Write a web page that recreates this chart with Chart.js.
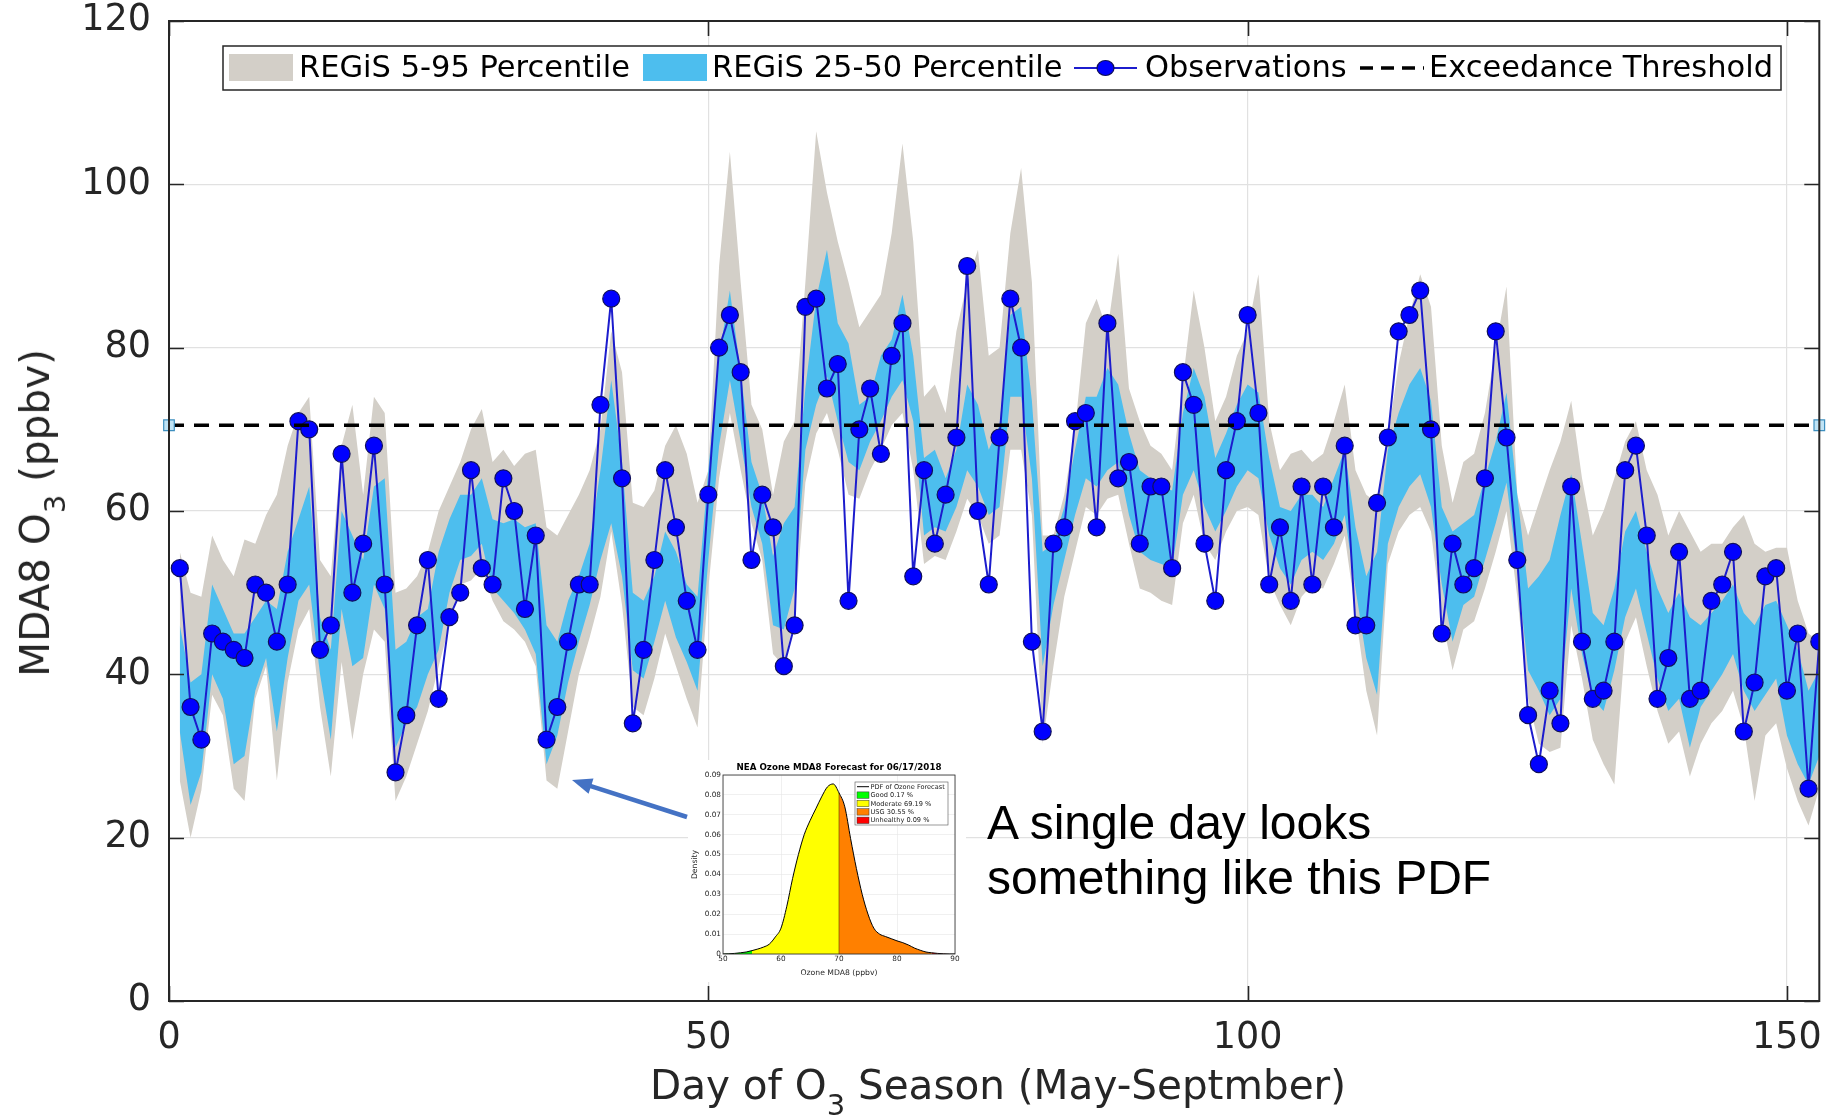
<!DOCTYPE html>
<html>
<head>
<meta charset="utf-8">
<script src="https://cdn.jsdelivr.net/npm/chart.js@4.4.1/dist/chart.umd.min.js"></script>
<style>
html,body{margin:0;padding:0;background:#fff;}
#wrap{position:relative;width:1829px;height:1116px;overflow:hidden;background:#fff;}
#main{position:absolute;left:0;top:0;}
#insetBox{position:absolute;left:688px;top:760px;width:278px;height:222px;background:#fff;}
.ttl{position:absolute;font-family:"DejaVu Sans";font-size:40.5px;line-height:40px;color:#262626;white-space:nowrap;}
.ttl sub{font-size:29px;line-height:0;vertical-align:baseline;position:relative;top:16px;}
#xt{left:998px;top:1065px;transform:translateX(-50%);}
#yt{left:35px;top:513px;transform:translate(-50%,-50%) rotate(-90deg);}
#note{position:absolute;left:987px;top:795px;font-family:"Liberation Sans",Arial,sans-serif;font-size:48px;line-height:55px;color:#000;white-space:nowrap;}
</style>
</head>
<body>
<div id="wrap">
  <canvas id="main" width="1829" height="1116"></canvas>
  <div class="ttl" id="xt">Day of O<sub>3</sub> Season (May-Septmber)</div>
  <div class="ttl" id="yt">MDA8 O<sub>3</sub> (ppbv)</div>
  <div id="insetBox"><canvas id="inset" width="278" height="222"></canvas></div>
  <div id="note">A single day looks<br>something like this PDF</div>
</div>
<script>
// ---------------- main chart data ----------------
const obs = [53,36,32,45,44,43,42,51,50,44,51,71,70,43,46,67,50,56,68,51,
28,35,46,54,37,47,50,65,53,51,64,60,48,57,32,36,44,51,51,73,
86,64,34,43,54,65,58,49,43,62,80,84,77,54,62,58,41,46,85,86,
75,78,49,70,75,67,79,83,52,65,56,62,69,90,60,51,69,86,80,44,
33,56,58,71,72,58,83,64,66,56,63,63,53,77,73,56,49,65,71,84,
72,51,58,49,63,51,63,58,68,46,46,61,69,82,84,87,70,45,56,51,
53,64,82,69,54,35,29,38,34,63,44,37,38,44,65,68,57,37,42,55,
37,38,49,51,55,33,39,52,53,38,45,26,44];

const p95 = [55,50,49.5,57,54,52,56.5,56,59.5,62,68,72,74,54,52,68,73,62,74,72,
50,50.5,52,55,60,63,66,70,72.5,66,67.5,65.5,67,67.5,58,57,59.5,62,65,70,
82,77,61,60.5,62.5,68,70.5,67,61,65,90,104,88,73,70,62,68.5,71,88,106.5,
99,93,88,82.5,84.5,86.5,94,105,93,74,75.5,72,82,88,92,79,80,94,102,88,
57,57,62,70,83,86,82,91.5,75,71,68,67,65,76,87,80,71,74,79,82,
89,71,65,67,67.5,66,67,71,75.5,65,62,61,69,78,84,89,85,68,61,66,
67,72,80,87.5,62,57,61,65,68.5,73.5,64,57,60,64,68.5,71,65,62,57,60,
57.5,55,56,56,58,59.5,56,55,55.5,55.5,49,45,44];

const p50 = [46,39,40,51,48,45,45,47,49,48,55,59,63,47,43,60,57,54,63,64,
43,44,47,48,55,59,62,62,64,59,58.5,59,58,58.5,46,44,49,52,56,65,
76,66,50,49,52,57.5,55,51,49.5,65,79,87,77,66,62,54.5,58.5,60.5,75,86,
92,83,80.5,73,74,79,81,86.5,79,66.5,67.5,64,67.5,75.5,73,67.5,70.5,84,85,73.5,
55,56,60.5,67.5,74,74,77.5,75.5,69.5,65,64,63,62.5,72,77.5,74,66.5,69.5,73,75.5,
74.5,66.5,60.5,60,62,62,60.5,64,67.5,58,52,55,67.5,72,75.5,77.5,73.5,60.5,57.5,58.5,
59.5,64,68.5,74.5,62,50.5,52,54,59.5,64.5,56,47.5,46,50.5,57.5,60,55,50.5,47.5,50,
47,46,47.5,49,51,47.5,46,48.5,49,46,43,38,40.5];

const p25 = [33,24,28,40,37,29,30,38,42,33,42,49,51,40,32,48,41,42,51,48,
31,34,36,40,43,50,54,54.5,56,50.5,49,47.5,45.5,42.5,29,32.5,39,44,48.5,54,
58.5,52,40.5,39.5,44,49,44.5,41.5,38,54,68,76,68.5,60.5,56,46,45.5,50.5,67.5,73,
76.5,71,66,65,68.5,71,74,76,71,57,58,57.5,60.5,65,63,59.5,60.5,74,74,64,
41,48.5,54,59.5,64,63,65,66,59.5,55,54,53.5,53,62,65,60.5,57.5,60,63,65,
64,57,53,51,54,55,54,56,59.5,50.5,42,37.5,56,60.5,63,64.5,60.5,51,44,48.5,
49.5,54,58.5,63.5,53,40.5,38,35,37,50.5,42.5,37,35.5,40.5,47,50.5,45,39.5,35.5,37,
31,36,38,40,42.5,38,35.5,37.5,39.5,32.5,29,26.5,30];

const p5 = [27,20,25.8,37.5,35,26,24.5,37,41,27,39,45.5,48,36,27.5,41.5,32,40,45.5,44,
24.5,27.5,31.5,35.5,41,46,51,51.5,53,49,46.5,45.5,44,41,27,26,33,40,44.5,49.5,
57.5,48.5,36,35,39.5,45,41,37,33.5,50.5,64,72,65,58.5,54,42.5,41,47,63.5,69.5,
72,67.5,62,61.5,65,67.5,70.5,72,65,53.5,54.5,54,57.5,61.5,59.5,56,57,67.5,67.5,59.5,
31.5,41,49.5,55,60.5,59.5,61.5,62,56,50.5,50,49,48.5,58.5,62,56,54,57.5,60,60.5,
59.5,51.5,48.5,46,49.5,51,50.5,53.5,57,47.5,38,32.5,53.5,57.5,59.5,60.5,57.5,47,40.5,45.5,
46.5,50.5,55,60,49.5,37,31.5,30.5,31,46,39.5,32,29,26.5,44,47,41,35.5,31.5,33,
27.5,31.5,34,35.5,38,33.5,24.5,32.5,34,28.5,24.5,21.5,26];

const threshold = 70.5;
const xRange = [0, 153];
const xTicks = [0, 50, 100, 150];
const yTicks = [0, 20, 40, 60, 80, 100, 120];
const legendLabels = ['REGiS 5-95 Percentile', 'REGiS 25-50 Percentile', 'Observations', 'Exceedance Threshold'];

// ---------------- inset (PDF) data ----------------
const pdfX = [50,51,52,53,54,55,56,57,58,59,60,61,62,63,64,65,66,67,68,69,70,71,72,73,74,75,76,77,78,79,80,81,82,83,84,85,86,87,88,89,90];
const pdfY = [0,0.0001,0.0003,0.0006,0.001,0.0017,0.0025,0.0035,0.005,0.0085,0.013,0.024,0.038,0.05,0.06,0.067,0.073,0.079,0.084,0.0855,0.081,0.074,0.058,0.043,0.03,0.02,0.013,0.010,0.0088,0.0077,0.0066,0.0057,0.0045,0.003,0.0019,0.001,0.0006,0.0003,0.0001,0,0];
const pdfCats = [
  {label:'Good 0.17 %', from:50, to:55, color:'#00ff00'},
  {label:'Moderate 69.19 %', from:55, to:70, color:'#ffff00'},
  {label:'USG 30.55 %', from:70, to:86, color:'#ff8000'},
  {label:'Unhealthy 0.09 %', from:86, to:90, color:'#ff0000'}
];
const pdfTitle = 'NEA Ozone MDA8 Forecast for 06/17/2018';

// ---------------- helpers ----------------
const days = obs.map((_, i) => i + 1);
const pts = arr => arr.map((v, i) => ({x: days[i], y: v}));
const GREY = 'rgb(211,207,200)';
const BLUE = 'rgb(77,190,238)';
const OBS_LINE = 'rgb(28,28,205)';
const OBS_FILL = '#0000ff';
const AX = '#262626';
const FONT = '"DejaVu Sans"';

const framePlugin = {
  id: 'frame',
  afterDatasetsDraw(chart) {
    const {ctx, chartArea: a, scales: {x, y}} = chart;
    ctx.save();
    ctx.strokeStyle = AX;
    ctx.lineWidth = 1.6;
    ctx.beginPath();
    xTicks.forEach(v => {
      const px = Math.round(x.getPixelForValue(v)) + 0.5;
      ctx.moveTo(px, a.bottom); ctx.lineTo(px, a.bottom - 15);
      ctx.moveTo(px, a.top); ctx.lineTo(px, a.top + 15);
    });
    yTicks.forEach(v => {
      const py = Math.round(y.getPixelForValue(v)) + 0.5;
      ctx.moveTo(a.left, py); ctx.lineTo(a.left + 15, py);
      ctx.moveTo(a.right, py); ctx.lineTo(a.right - 15, py);
    });
    ctx.stroke();
    ctx.lineWidth = 2;
    ctx.strokeRect(a.left, a.top, a.right - a.left, a.bottom - a.top);

    // legend
    const bx = 223, by = 46, bw = 1558, bh = 44;
    ctx.fillStyle = '#fff';
    ctx.fillRect(bx, by, bw, bh);
    ctx.lineWidth = 1.5;
    ctx.strokeStyle = AX;
    ctx.strokeRect(bx, by, bw, bh);
    const cy = by + bh / 2;
    ctx.fillStyle = GREY; ctx.fillRect(229, 54, 64, 27);
    ctx.fillStyle = BLUE; ctx.fillRect(643, 54, 64, 27);
    ctx.strokeStyle = OBS_LINE; ctx.lineWidth = 2;
    ctx.beginPath(); ctx.moveTo(1074, cy); ctx.lineTo(1137, cy); ctx.stroke();
    ctx.beginPath(); ctx.ellipse(1105.5, cy, 8.5, 7.5, 0, 0, Math.PI * 2);
    ctx.fillStyle = OBS_FILL; ctx.fill();
    ctx.strokeStyle = '#10105a'; ctx.lineWidth = 1.2; ctx.stroke();
    ctx.strokeStyle = '#000'; ctx.lineWidth = 3.5; ctx.setLineDash([13, 8]);
    ctx.beginPath(); ctx.moveTo(1360, cy); ctx.lineTo(1424, cy); ctx.stroke();
    ctx.setLineDash([]);
    ctx.fillStyle = '#000';
    ctx.font = '30.5px ' + FONT;
    ctx.textBaseline = 'middle';
    ctx.textAlign = 'left';
    ctx.fillText(legendLabels[0], 299, cy + 1);
    ctx.fillText(legendLabels[1], 712, cy + 1);
    ctx.fillText(legendLabels[2], 1145, cy + 1);
    ctx.fillText(legendLabels[3], 1429, cy + 1);

    // arrow pointing at the dip
    const tx = 687, ty = 817, hx = 572, hy = 780;
    const ang = Math.atan2(hy - ty, hx - tx);
    ctx.strokeStyle = '#4472C4'; ctx.fillStyle = '#4472C4'; ctx.lineWidth = 4.5;
    ctx.beginPath(); ctx.moveTo(tx, ty);
    ctx.lineTo(hx - 14 * Math.cos(ang), hy - 14 * Math.sin(ang)); ctx.stroke();
    ctx.beginPath();
    ctx.moveTo(hx, hy);
    ctx.lineTo(hx - 20 * Math.cos(ang) + 8 * Math.sin(ang), hy - 20 * Math.sin(ang) - 8 * Math.cos(ang));
    ctx.lineTo(hx - 20 * Math.cos(ang) - 8 * Math.sin(ang), hy - 20 * Math.sin(ang) + 8 * Math.cos(ang));
    ctx.closePath(); ctx.fill();
    ctx.restore();
  }
};

const bg = {
  id: 'bg',
  beforeDraw(chart) {
    const c = chart.ctx; c.save(); c.fillStyle = '#fff';
    c.fillRect(0, 0, chart.width, chart.height); c.restore();
  }
};

const band = (data, fill, color, order) => ({
  data: pts(data), fill: fill, backgroundColor: color, borderColor: 'rgba(0,0,0,0)',
  borderWidth: 0, pointRadius: 0, tension: 0, order: order
});

new Chart(document.getElementById('main'), {
  type: 'line',
  data: {
    datasets: [
      band(p95, '+1', GREY, 10),
      band(p5, false, GREY, 9),
      band(p50, '+1', BLUE, 8),
      band(p25, false, BLUE, 7),
      {
        label: legendLabels[2], data: pts(obs), borderColor: OBS_LINE, borderWidth: 2,
        pointRadius: 8.5, pointBackgroundColor: OBS_FILL, pointBorderColor: '#10105a',
        pointBorderWidth: 1.2, tension: 0, fill: false, order: 2, clip: 0
      },
      {
        label: legendLabels[3],
        data: [{x: xRange[0], y: threshold}, {x: xRange[1], y: threshold}],
        borderColor: '#000', borderWidth: 3.5, borderDash: [15, 10],
        pointStyle: 'rect', pointRadius: 7.5, pointBackgroundColor: '#bfe3f5',
        pointBorderColor: '#3d8fbf', pointBorderWidth: 1.2, fill: false, order: 1, clip: false
      }
    ]
  },
  options: {
    responsive: false, animation: false, devicePixelRatio: 1, events: [],
    layout: {padding: {top: 21, right: 2, left: 0, bottom: 0}},
    plugins: {legend: {display: false}, tooltip: {enabled: false}, title: {display: false}},
    scales: {
      x: {
        type: 'linear', min: xRange[0], max: xRange[1],
        afterBuildTicks: s => { s.ticks = xTicks.map(v => ({value: v})); },
        afterFit: s => { s.height = 115; s.paddingLeft = 0; s.paddingRight = 0; },
        grid: {color: '#e1e1e1', lineWidth: 1.2, drawTicks: false},
        border: {display: false},
        ticks: {font: {family: 'DejaVu Sans', size: 36.5}, color: AX, padding: 16, maxRotation: 0, autoSkip: false}
      },
      y: {
        type: 'linear', min: 0, max: 120,
        afterBuildTicks: s => { s.ticks = yTicks.map(v => ({value: v})); },
        afterFit: s => { s.width = 169; s.paddingTop = 0; s.paddingBottom = 0; },
        grid: {color: '#e1e1e1', lineWidth: 1.2, drawTicks: false},
        border: {display: false},
        ticks: {font: {family: 'DejaVu Sans', size: 36.5}, color: AX, padding: 18}
      }
    }
  },
  plugins: [bg, framePlugin]
});

// ---------------- inset chart ----------------
const pdfPts = pdfX.map((v, i) => ({x: v, y: pdfY[i]}));
const insetPlugin = {
  id: 'insetDeco',
  beforeDraw(chart) {
    const c = chart.ctx; c.save(); c.fillStyle = '#fff';
    c.fillRect(0, 0, chart.width, chart.height); c.restore();
  },
  afterDraw(chart) {
    const {ctx, chartArea: a} = chart;
    ctx.save();
    ctx.strokeStyle = AX; ctx.lineWidth = 0.8;
    ctx.strokeRect(a.left, a.top, a.right - a.left, a.bottom - a.top);
    const cx = (a.left + a.right) / 2;
    ctx.fillStyle = '#000';
    ctx.textAlign = 'center'; ctx.textBaseline = 'middle';
    ctx.font = 'bold 8.7px ' + FONT;
    ctx.fillText(pdfTitle, cx, 8);
    ctx.fillStyle = AX;
    ctx.font = '7.7px ' + FONT;
    ctx.fillText('Ozone MDA8 (ppbv)', cx, 213);
    ctx.save(); ctx.translate(7, (a.top + a.bottom) / 2); ctx.rotate(-Math.PI / 2);
    ctx.fillText('Density', 0, 0); ctx.restore();
    const lx = 167, ly = 22, lw = 93, lh = 43;
    ctx.fillStyle = '#fff'; ctx.fillRect(lx, ly, lw, lh);
    ctx.strokeStyle = '#555'; ctx.lineWidth = 0.6; ctx.strokeRect(lx, ly, lw, lh);
    ctx.font = '6.6px ' + FONT; ctx.textAlign = 'left';
    const rows = ['PDF of Ozone Forecast'].concat(pdfCats.map(c => c.label));
    rows.forEach((t, i) => {
      const ry = ly + 4.7 + i * 8.4;
      if (i === 0) {
        ctx.strokeStyle = '#000'; ctx.lineWidth = 1;
        ctx.beginPath(); ctx.moveTo(lx + 2, ry); ctx.lineTo(lx + 14, ry); ctx.stroke();
      } else {
        ctx.fillStyle = pdfCats[i - 1].color; ctx.fillRect(lx + 2, ry - 3.2, 12, 6.4);
        ctx.strokeStyle = '#333'; ctx.lineWidth = 0.5; ctx.strokeRect(lx + 2, ry - 3.2, 12, 6.4);
      }
      ctx.fillStyle = '#222';
      ctx.fillText(t, lx + 15.5, ry + 0.3);
    });
    ctx.restore();
  }
};

const segDatasets = pdfCats.map(cat => ({
  data: pdfPts.filter(p => p.x >= cat.from && p.x <= cat.to),
  fill: 'origin', backgroundColor: cat.color, borderColor: 'rgba(0,0,0,0)', borderWidth: 0,
  pointRadius: 0, cubicInterpolationMode: 'monotone', order: 5
}));
const segStroke = pdfCats.slice(1, 2).map(cat => ({
  data: [{x: cat.to, y: 0}, {x: cat.to, y: pdfPts.find(p => p.x === cat.to).y}],
  borderColor: '#5a3a00', borderWidth: 0.6, pointRadius: 0, fill: false, order: 3
}));

new Chart(document.getElementById('inset'), {
  type: 'line',
  data: {
    datasets: [
      {data: pdfPts, borderColor: '#000', borderWidth: 1, pointRadius: 0, fill: false,
       cubicInterpolationMode: 'monotone', order: 0}
    ].concat(segStroke, segDatasets)
  },
  options: {
    responsive: false, animation: false, devicePixelRatio: 1, events: [],
    layout: {padding: {top: 15, right: 11, left: 0, bottom: 0}},
    plugins: {legend: {display: false}, tooltip: {enabled: false}},
    scales: {
      x: {
        type: 'linear', min: 50, max: 90,
        afterBuildTicks: s => { s.ticks = [50, 60, 70, 80, 90].map(v => ({value: v})); },
        afterFit: s => { s.height = 28; s.paddingLeft = 0; s.paddingRight = 0; },
        grid: {color: '#e6e6e6', lineWidth: 0.6, drawTicks: false}, border: {display: false},
        ticks: {font: {family: 'DejaVu Sans', size: 7.3}, color: AX, padding: 1, maxRotation: 0, autoSkip: false}
      },
      y: {
        type: 'linear', min: 0, max: 0.09,
        afterBuildTicks: s => { s.ticks = [0, 0.01, 0.02, 0.03, 0.04, 0.05, 0.06, 0.07, 0.08, 0.09].map(v => ({value: v})); },
        afterFit: s => { s.width = 35; s.paddingTop = 0; s.paddingBottom = 0; },
        grid: {color: '#e6e6e6', lineWidth: 0.6, drawTicks: false}, border: {display: false},
        ticks: {font: {family: 'DejaVu Sans', size: 7.3}, color: AX, padding: 2, autoSkip: false,
                callback: v => (v === 0 ? '0' : v.toFixed(2))}
      }
    }
  },
  plugins: [insetPlugin]
});
</script>
</body>
</html>
